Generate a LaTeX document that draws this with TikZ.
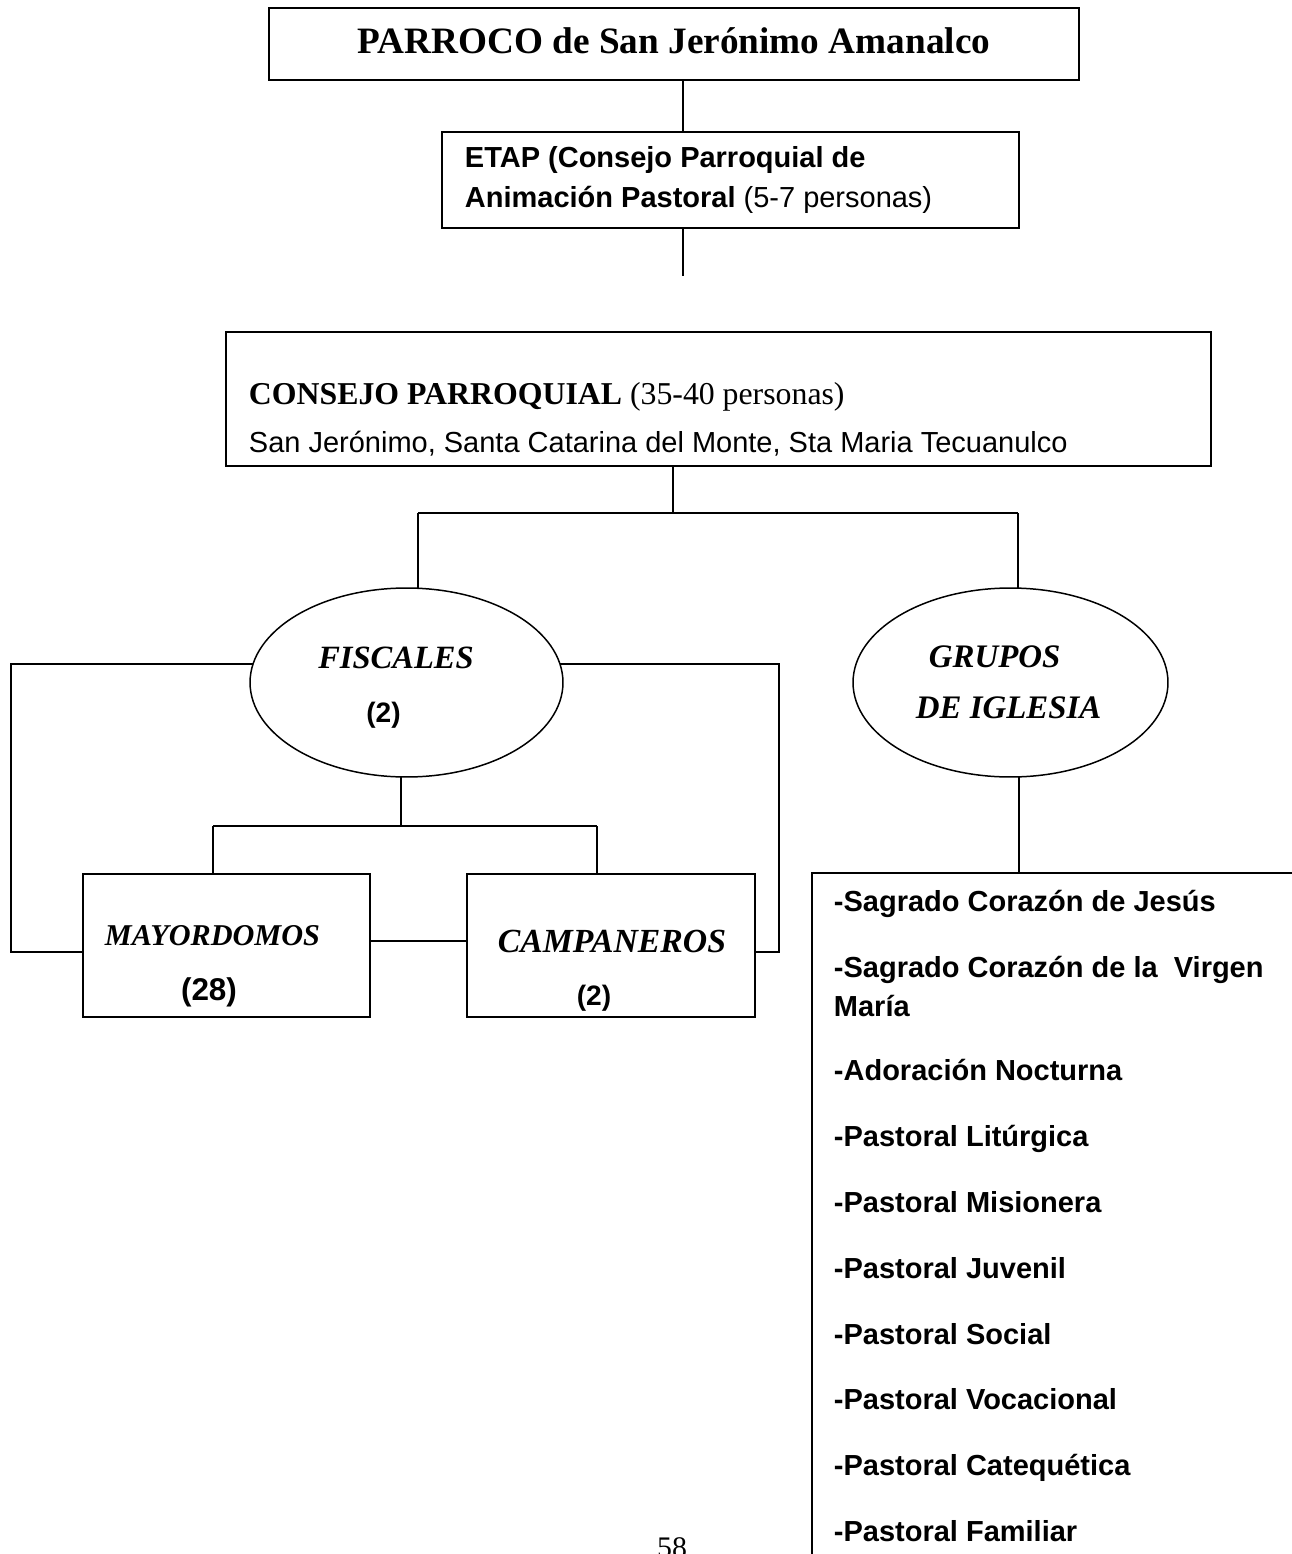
\documentclass[tikz,border=0pt]{standalone}
\usepackage{fontspec}
\setmainfont{Liberation Serif}
\newfontfamily\arial{Liberation Sans}
\usetikzlibrary{shapes.geometric}

\begin{document}
\begin{tikzpicture}[x=0.02cm,y=-0.02cm,line width=1.1pt,
                        caja/.style={shape=rectangle,draw,inner sep=0pt,outer sep=0pt},
                        ovalo/.style={shape=ellipse,draw,inner sep=0pt,outer sep=0pt,line width=0.85pt},
                        texto/.style={inner sep=0pt,anchor=base west},
                        lista/.style={inner sep=0pt,anchor=base west,font=\arial\fontsize{16.5}{20}\selectfont\bfseries},
                        cargo/.style={inner sep=0pt,anchor=base,font=\bfseries\itshape}
                        ]
                        \useasboundingbox (0,0) rectangle (1291,1554);
                        %Nivel 1: Parroco y ETAP
                        \node [caja,minimum width=16.2cm,minimum height=1.44cm] (parroco) at (674,44) {};
                        \node [inner sep=0pt,anchor=base,font=\fontsize{21.2}{25}\selectfont\bfseries] (parrocotxt) at (674,54) {PARROCO de San Jerónimo Amanalco};
                        \node [caja,minimum width=11.54cm,minimum height=1.92cm] (etap) at (730.5,180) {};
                        \node [texto,font=\arial\fontsize{16.5}{20}\selectfont] (etap1) at (464,168) {\bfseries ETAP (Consejo Parroquial de};
                        \node [texto,font=\arial\fontsize{16.5}{20}\selectfont] (etap2) at (464,208) {\bfseries Animación Pastoral\mdseries{} (5-7 personas)};
                        \coordinate (eje) at (683,0);
                        \coordinate (etapfin) at (683,276);
                        \draw (parroco.south -| eje) -- (etap.north -| eje);
                        \draw (etap.south -| eje) -- (etapfin);
                        %Nivel 2: Consejo Parroquial
                        \node [caja,minimum width=19.7cm,minimum height=2.68cm] (consejo) at (718.5,399) {};
                        \node [texto,font=\fontsize{18.1}{22}\selectfont] (consejo1) at (248,404) {\bfseries CONSEJO PARROQUIAL\mdseries{} (35-40 personas)};
                        \node [texto,font=\arial\fontsize{16.5}{20}\selectfont] (consejo2) at (248,452) {San Jerónimo, Santa Catarina del Monte, Sta Maria Tecuanulco};
                        %Nivel 3: Fiscales y Grupos de Iglesia
                        \node [ovalo,minimum width=6.26cm,minimum height=3.78cm] (fiscales) at (406.5,682.5) {};
                        \node [cargo,font=\fontsize{18.5}{22}\selectfont\bfseries\itshape] (fiscalestxt) at (396,668) {FISCALES};
                        \node [inner sep=0pt,anchor=base,font=\arial\fontsize{16}{19}\selectfont\bfseries] (fiscalesnum) at (383.5,722) {(2)};
                        \node [ovalo,minimum width=6.3cm,minimum height=3.78cm] (grupos) at (1010.5,682.5) {};
                        \node [texto,font=\fontsize{18.7}{22}\selectfont\bfseries\itshape] (grupos1) at (928,667) {GRUPOS};
                        \node [texto,font=\fontsize{18.7}{22}\selectfont\bfseries\itshape] (grupos2) at (915,718) {DE IGLESIA};
                        \coordinate (rama) at (673,513);
                        \coordinate (ramaizq) at (418,513);
                        \coordinate (ramader) at (1018,513);
                        \draw (consejo.south -| rama) -- (rama);
                        \draw (ramaizq) -- (ramader);
                        \draw (ramaizq) -- (ramaizq |- fiscales.north);
                        \draw (ramader) -- (ramader |- grupos.north);
                        %Nivel 4: Mayordomos y Campaneros
                        \node [caja,minimum width=5.74cm,minimum height=2.86cm] (mayordomos) at (226.5,945.5) {};
                        \node [texto,font=\fontsize{17.2}{20}\selectfont\bfseries\itshape] (mayordomostxt) at (104,945) {MAYORDOMOS};
                        \node [inner sep=0pt,anchor=base,font=\arial\fontsize{17.9}{21}\selectfont\bfseries] (mayordomosnum) at (209,1000) {(28)};
                        \node [caja,minimum width=5.76cm,minimum height=2.86cm] (campaneros) at (611,945.5) {};
                        \node [cargo,font=\fontsize{19.2}{23}\selectfont\bfseries\itshape] (campanerostxt) at (612,952) {CAMPANEROS};
                        \node [inner sep=0pt,anchor=base,font=\arial\fontsize{16}{19}\selectfont\bfseries] (campanerosnum) at (594,1005) {(2)};
                        \coordinate (horca) at (401,826);
                        \coordinate (horcaizq) at (213,826);
                        \coordinate (horcader) at (597,826);
                        \coordinate (barra) at (0,941);
                        \coordinate (rielizq) at (11,952);
                        \coordinate (rielder) at (779,952);
                        \draw (fiscales.south -| horca) -- (horca);
                        \draw (horcaizq) -- (horcader);
                        \draw (horcaizq) -- (horcaizq |- mayordomos.north);
                        \draw (horcader) -- (horcader |- campaneros.north);
                        \draw (mayordomos.east |- barra) -- (campaneros.west |- barra);
                        \draw (fiscales.173) -| (rielizq) -- (rielizq -| mayordomos.west);
                        \draw (fiscales.7) -| (rielder) -- (rielder -| campaneros.east);
                        %Lista de grupos
                        \node [caja,anchor=north west,minimum width=10.4cm,minimum height=14.4cm] (listagrupos) at (812,873) {};
                        \coordinate (bajada) at (1019,0);
                        \draw (grupos.south -| bajada) -- (listagrupos.north -| bajada);
                        \node [lista] (item2b) at (833,1016) {María};
                        \foreach \y/\t [count=\i] in {911/-Sagrado Corazón de Jesús,977/-Sagrado Corazón de la \ Virgen,1080/-Adoración Nocturna,1146/-Pastoral Litúrgica,1212/-Pastoral Misionera,1278/-Pastoral Juvenil,1344/-Pastoral Social,1409/-Pastoral Vocacional,1475/-Pastoral Catequética,1541/-Pastoral Familiar}
                            \node [lista] (item\i) at (833,\y) {\t};
                        %Numero de pagina
                        \node [inner sep=0pt,anchor=base,font=\fontsize{17}{20}\selectfont] (pagina) at (672,1557) {58};
                \end{tikzpicture}
\end{document}
